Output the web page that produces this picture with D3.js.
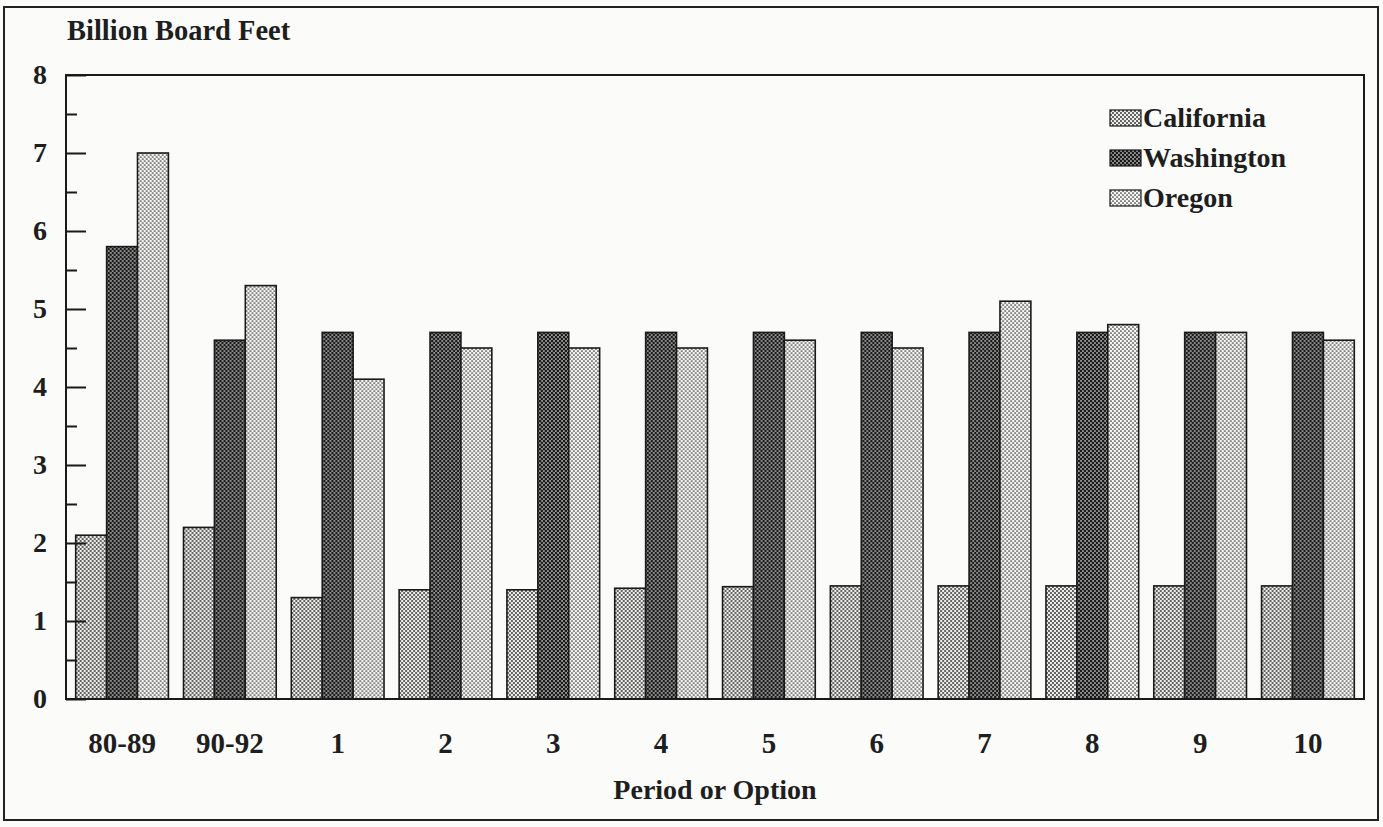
<!DOCTYPE html>
<html>
<head>
<meta charset="utf-8">
<script src="https://cdn.jsdelivr.net/npm/d3@7"></script>
<style>
  html, body { margin: 0; padding: 0; background: #fbfbf9; }
  svg { display: block; }
  text { font-family: "Liberation Serif", "Times New Roman", serif; font-weight: bold; fill: #1e1e1e; }
</style>
</head>
<body>
<svg id="chart" width="1383" height="827"></svg>
<script>
const categories = ["80-89", "90-92", "1", "2", "3", "4", "5", "6", "7", "8", "9", "10"];
const seriesNames = ["California", "Washington", "Oregon"];
const california = [2.1, 2.2, 1.3, 1.4, 1.4, 1.42, 1.44, 1.45, 1.45, 1.45, 1.45, 1.45];
const washington = [5.8, 4.6, 4.7, 4.7, 4.7, 4.7, 4.7, 4.7, 4.7, 4.7, 4.7, 4.7];
const oregon     = [7.0, 5.3, 4.1, 4.5, 4.5, 4.5, 4.6, 4.5, 5.1, 4.8, 4.7, 4.6];
const yTicks = [0, 1, 2, 3, 4, 5, 6, 7, 8];
const yMinorTicks = [0.5, 1.5, 2.5, 3.5, 4.5, 5.5, 6.5, 7.5];
const yTitle = "Billion Board Feet";
const xTitle = "Period or Option";

const seriesValues = [california, washington, oregon];
const data = categories.map((c, i) => ({
  cat: c,
  vals: seriesNames.map((s, j) => ({ key: s, value: seriesValues[j][i] }))
}));

const svg = d3.select("#chart");
const plotLeft = 66, plotRight = 1364, plotTop = 75, plotBottom = 699;

// patterns
const defs = svg.append("defs");
function dotPattern(id, r, bg, dot) {
  const p = defs.append("pattern").attr("id", id).attr("patternUnits", "userSpaceOnUse")
    .attr("width", 4).attr("height", 4);
  p.append("rect").attr("width", 4).attr("height", 4).attr("fill", bg);
  p.append("circle").attr("cx", 1).attr("cy", 1).attr("r", r).attr("fill", dot);
  p.append("circle").attr("cx", 3).attr("cy", 3).attr("r", r).attr("fill", dot);
}
dotPattern("pat-ca", 0.95, "#eeeeec", "#2a2a2a");
dotPattern("pat-wa", 1.35, "#9a9a9a", "#1a1a1a");
dotPattern("pat-or", 0.85, "#f6f6f4", "#2a2a2a");
const fills = { California: "url(#pat-ca)", Washington: "url(#pat-wa)", Oregon: "url(#pat-or)" };

// outer frame
svg.append("rect").attr("x", 4).attr("y", 7).attr("width", 1374).attr("height", 813)
  .attr("fill", "none").attr("stroke", "#222").attr("stroke-width", 2);

const y = d3.scaleLinear().domain([0, 8]).range([plotBottom, plotTop]);
const x0 = d3.scaleBand().domain(categories).range([plotLeft, plotRight]).paddingInner(0.14).paddingOuter(0.09);
const x1 = d3.scaleBand().domain(seriesNames).range([0, x0.bandwidth()]);

// bars
const groups = svg.append("g").selectAll("g").data(data).join("g")
  .attr("transform", d => `translate(${x0(d.cat)},0)`);
groups.selectAll("rect").data(d => d.vals).join("rect")
  .attr("x", d => x1(d.key))
  .attr("y", d => y(d.value))
  .attr("width", x1.bandwidth())
  .attr("height", d => y(0) - y(d.value))
  .attr("fill", d => fills[d.key])
  .attr("stroke", "#1a1a1a").attr("stroke-width", 1.6);

// plot box
svg.append("rect").attr("x", plotLeft).attr("y", plotTop).attr("width", plotRight - plotLeft).attr("height", plotBottom - plotTop)
  .attr("fill", "none").attr("stroke", "#1a1a1a").attr("stroke-width", 2);

// y axis major
const yAxis = svg.append("g").attr("transform", `translate(${plotLeft},0)`)
  .call(d3.axisLeft(y).tickValues(yTicks).tickSize(-20).tickPadding(19).tickFormat(d3.format("d")));
yAxis.select(".domain").remove();
yAxis.selectAll("line").attr("stroke", "#1a1a1a").attr("stroke-width", 2);
yAxis.selectAll("text").style("font-size", "28px").attr("fill", "#1e1e1e");

// y axis minor
const yMinor = svg.append("g").attr("transform", `translate(${plotLeft},0)`)
  .call(d3.axisLeft(y).tickValues(yMinorTicks).tickSize(-11).tickFormat(""));
yMinor.select(".domain").remove();
yMinor.selectAll("line").attr("stroke", "#1a1a1a").attr("stroke-width", 2);

// x axis labels
const xAxis = svg.append("g").attr("transform", `translate(0,${plotBottom})`)
  .call(d3.axisBottom(x0).tickSize(0).tickPadding(33));
xAxis.select(".domain").remove();
xAxis.selectAll("text").style("font-size", "29px").attr("fill", "#1e1e1e");

// titles
svg.append("text").attr("x", 67).attr("y", 40).style("font-size", "28.5px").text(yTitle);
svg.append("text").attr("x", (plotLeft + plotRight) / 2).attr("y", 799).attr("text-anchor", "middle")
  .style("font-size", "28px").text(xTitle);

// legend
const legend = svg.append("g").attr("transform", "translate(1110,110)");
seriesNames.forEach((s, i) => {
  const g = legend.append("g").attr("transform", `translate(0,${i * 40})`);
  g.append("rect").attr("x", 0).attr("y", 0).attr("width", 31).attr("height", 16)
    .attr("fill", fills[s]).attr("stroke", "#1a1a1a").attr("stroke-width", 1.2);
  g.append("text").attr("x", 33).attr("y", 17).style("font-size", "28px").text(s);
});
</script>
</body>
</html>
